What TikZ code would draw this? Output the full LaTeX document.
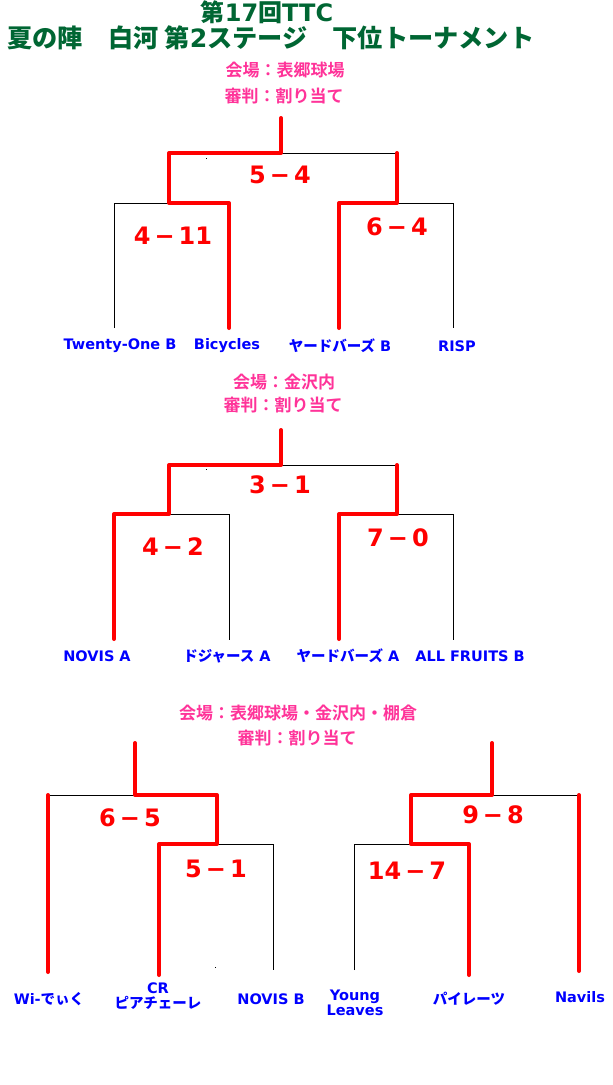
\documentclass[tikz,border=0pt]{standalone}
\usepackage{fontspec}
\setmainfont{DejaVu Sans}
\newfontfamily\jp{Noto Sans CJK JP Bold}
\definecolor{ttlgreen}{RGB}{0,102,51}
\definecolor{venuepink}{RGB}{255,51,153}
\definecolor{teamblue}{RGB}{0,0,255}
\definecolor{winred}{RGB}{255,0,0}
\tikzset{
  bline/.style={draw=black,line width=1pt},
  rline/.style={draw=winred,line width=4pt,line cap=round,line join=round},
  ttl/.style={text=ttlgreen,font=\bfseries\fontsize{24}{28}\selectfont,inner sep=0pt},
  venue/.style={text=venuepink,font=\jp\fontsize{17}{19}\selectfont,inner sep=0pt},
  score/.style={text=winred,font=\bfseries\fontsize{24}{28}\selectfont,inner sep=0pt},
  team/.style={text=teamblue,font=\bfseries\fontsize{14.5}{15.5}\selectfont,inner sep=0pt,align=center},
}
\newcommand{\dsh}{\,−\,}
\begin{document}
\begin{tikzpicture}[x=1pt,y=-1pt]
\useasboundingbox (0,0) rectangle (613,1085);
% titles
\node[ttl] (title1) at (267,12) {{\jp 第}17{\jp 回}TTC};
\node[ttl,font=\bfseries\fontsize{25.2}{28}\selectfont] (title2) at (271,38) {{\jp 夏の陣　白河 第}2{\jp ステージ　下位トーナメント}};
% ---------- section 1 ----------
\node[venue] (v1a) at (285,70) {会場：表郷球場};
\node[venue] (v1b) at (284,96) {審判：割り当て};
\coordinate (a0) at (281,118);
\coordinate (a1) at (281,153);
\coordinate (aL) at (169,153);
\coordinate (aR) at (397,153);
\coordinate (aLb) at (169,203);
\coordinate (aRb) at (397,203);
\coordinate (a11) at (114,203); \coordinate (a11e) at (114,328);
\coordinate (a12) at (229,203); \coordinate (a12e) at (229,328);
\coordinate (a21) at (339,203); \coordinate (a21e) at (339,328);
\coordinate (a22) at (453,203); \coordinate (a22e) at (453,328);
\draw[bline] (a11e) -- (a11) -- (a12) -- (a12e);
\draw[bline] (aLb) -- (aL) -- (aR) -- (aRb);
\draw[bline] (a21e) -- (a21) -- (a22) -- (a22e);
\draw[rline] (a0) -- (a1) -- (aL) -- (aLb) -- (a12) -- (a12e);
\draw[rline] (aR) -- (aRb) -- (a21) -- (a21e);
\fill (206,158) rectangle +(1,1);
\node[score] (sa0) at (280,175) {5\dsh 4};
\node[score] (sa1) at (173,236) {4\dsh 11};
\node[score] (sa2) at (397,227) {6\dsh 4};
\node[team] (ta1) at (120,346) {Twenty-One B};
\node[team] (ta2) at (227,346) {Bicycles};
\node[team] (ta3) at (340,346) {{\jp ヤードバーズ} B};
\node[team] (ta4) at (457,346) {RISP};
% ---------- section 2 ----------
\node[venue] (v2a) at (284,382) {会場：金沢内};
\node[venue] (v2b) at (283,405) {審判：割り当て};
\coordinate (b0) at (281,430);
\coordinate (b1) at (281,465);
\coordinate (bL) at (169,465);
\coordinate (bR) at (397,465);
\coordinate (bLb) at (169,514);
\coordinate (bRb) at (397,514);
\coordinate (b11) at (114,514); \coordinate (b11e) at (114,639);
\coordinate (b12) at (229,514); \coordinate (b12e) at (229,640);
\coordinate (b21) at (339,514); \coordinate (b21e) at (339,639);
\coordinate (b22) at (453,514); \coordinate (b22e) at (453,640);
\draw[bline] (b11e) -- (b11) -- (b12) -- (b12e);
\draw[bline] (bLb) -- (bL) -- (bR) -- (bRb);
\draw[bline] (b21e) -- (b21) -- (b22) -- (b22e);
\draw[rline] (b0) -- (b1) -- (bL) -- (bLb) -- (b11) -- (b11e);
\draw[rline] (bR) -- (bRb) -- (b21) -- (b21e);
\fill (206,469) rectangle +(1,1);
\node[score] (sb0) at (280,485) {3\dsh 1};
\node[score] (sb1) at (173,547) {4\dsh 2};
\node[score] (sb2) at (398,538) {7\dsh 0};
\node[team] (tb1) at (97,656) {NOVIS A};
\node[team] (tb2) at (227,656) {{\jp ドジャース} A};
\node[team] (tb3) at (348,656) {{\jp ヤードバーズ} A};
\node[team] (tb4) at (470,656) {ALL FRUITS B};
% ---------- section 3 ----------
\node[venue] (v3a) at (298,713) {会場：表郷球場・金沢内・棚倉};
\node[venue] (v3b) at (297,738) {審判：割り当て};
% left
\coordinate (c0) at (135,743);
\coordinate (c1) at (135,795);
\coordinate (cA) at (48,795); \coordinate (cAe) at (48,972);
\coordinate (cJ) at (217,795); \coordinate (cJb) at (217,844);
\coordinate (cB) at (159,844); \coordinate (cBe) at (159,975);
\coordinate (cC) at (273,844); \coordinate (cCe) at (273,970);
\draw[bline] (cAe) -- (cA) -- (cJ) -- (cJb);
\draw[bline] (cBe) -- (cB) -- (cC) -- (cCe);
\draw[rline] (c0) -- (c1) -- (cJ) -- (cJb) -- (cB) -- (cBe);
\draw[rline] (cA) -- (cAe);
\fill (215,967) rectangle +(1,1);
\node[score] (sc0) at (130,818) {6\dsh 5};
\node[score] (sc1) at (216,869) {5\dsh 1};
% right
\coordinate (d0) at (492,743);
\coordinate (d1) at (492,795);
\coordinate (dJ) at (411,795); \coordinate (dJb) at (411,844);
\coordinate (dA) at (579,795); \coordinate (dAe) at (579,971);
\coordinate (dB) at (354,844); \coordinate (dBe) at (354,970);
\coordinate (dC) at (469,844); \coordinate (dCe) at (469,975);
\draw[bline] (dJb) -- (dJ) -- (dA) -- (dAe);
\draw[bline] (dBe) -- (dB) -- (dC) -- (dCe);
\draw[rline] (d0) -- (d1) -- (dJ) -- (dJb) -- (dC) -- (dCe);
\draw[rline] (dA) -- (dAe);
\node[score] (sd0) at (493,815) {9\dsh 8};
\node[score] (sd1) at (407,871) {14\dsh 7};
\node[team] (tc1) at (49,999) {Wi-{\jp でぃく}};
\node[team] (tc2) at (158,996) {CR\\{\jp ピアチェーレ}};
\node[team] (tc3) at (271,999) {NOVIS B};
\node[team] (tc4) at (355,1003) {Young\\Leaves};
\node[team] (tc5) at (469,999) {{\jp パイレーツ}};
\node[team] (tc6) at (580,997) {Navils};
\end{tikzpicture}
\end{document}
